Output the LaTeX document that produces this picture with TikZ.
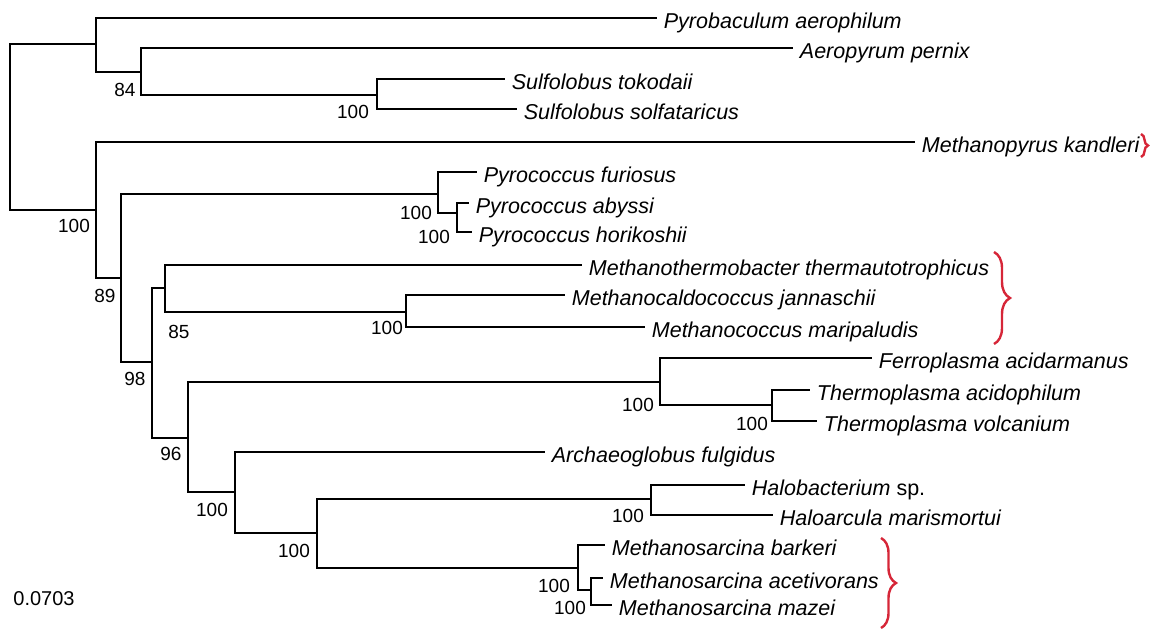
\documentclass[tikz,border=0pt]{standalone}
\usepackage{fontspec}
\setmainfont{Liberation Sans}
\usepackage{tikz}
\usetikzlibrary{decorations.pathreplacing}

\definecolor{cladered}{RGB}{214,38,56}

\begin{document}
\begin{tikzpicture}[x=1pt, y=-1pt, line width=1.8pt,
  taxon/.style={anchor=west, inner xsep=6pt, inner ysep=0pt, text height=21pt, text depth=0pt,
    font=\fontsize{21.5}{24}\selectfont\itshape},
  boot/.style={inner sep=0pt, font=\fontsize{19}{21}\selectfont},
  clade/.style={decorate, decoration={brace, amplitude=#1}, draw=cladered, line width=2.4pt}]
  \useasboundingbox (0,0) rectangle (1164,630);
  % split points: (x of the split, y of the branch coming in)
  \coordinate (root) at (10,127);
  \coordinate (nA) at (96,44);
  \coordinate (nC) at (141,72);
  \coordinate (nD) at (377,95);
  \coordinate (nB) at (96,210);
  \coordinate (nE) at (121,278);
  \coordinate (nF) at (438,194);
  \coordinate (nG) at (457,213);
  \coordinate (nH) at (152,362);
  \coordinate (nI) at (165,288);
  \coordinate (nJ) at (406,312);
  \coordinate (nK) at (188,438);
  \coordinate (nL) at (660,382);
  \coordinate (nM) at (772,405);
  \coordinate (nN) at (235,492);
  \coordinate (nO) at (317,533);
  \coordinate (nP) at (651,499);
  \coordinate (nQ) at (578,568);
  \coordinate (nR) at (591,590);
  % taxa, placed at the ends of their branches
  \node[taxon] (pyrob) at (657,18) {Pyrobaculum aerophilum};
  \node[taxon] (aerop) at (793,48) {Aeropyrum pernix};
  \node[taxon] (stoko) at (505,79) {Sulfolobus tokodaii};
  \node[taxon] (ssolf) at (517,109) {Sulfolobus solfataricus};
  \node[taxon] (mkand) at (915,142) {Methanopyrus kandleri};
  \node[taxon] (pfuri) at (477,172) {Pyrococcus furiosus};
  \node[taxon] (pabys) at (469,203) {Pyrococcus abyssi};
  \node[taxon] (phori) at (472,232) {Pyrococcus horikoshii};
  \node[taxon] (mther) at (582,265) {Methanothermobacter thermautotrophicus};
  \node[taxon] (mjann) at (565,295) {Methanocaldococcus jannaschii};
  \node[taxon] (mmari) at (645,327) {Methanococcus maripaludis};
  \node[taxon] (facid) at (872,358) {Ferroplasma acidarmanus};
  \node[taxon] (tacid) at (810,390) {Thermoplasma acidophilum};
  \node[taxon] (tvolc) at (817,421) {Thermoplasma volcanium};
  \node[taxon] (afulg) at (545,452) {Archaeoglobus fulgidus};
  \node[taxon] (halob) at (745,485) {Halobacterium {\upshape sp.}};
  \node[taxon] (hmari) at (773,515) {Haloarcula marismortui};
  \node[taxon] (mbark) at (605,545) {Methanosarcina barkeri};
  \node[taxon] (macet) at (603,578) {Methanosarcina acetivorans};
  \node[taxon] (mmaze) at (612,605) {Methanosarcina mazei};
  % branches
  \foreach \p/\c in {root/nA, root/nB, nA/pyrob.west, nA/nC, nC/aerop.west, nC/nD,
      nD/stoko.west, nD/ssolf.west, nB/mkand.west, nB/nE, nE/nF, nE/nH,
      nF/pfuri.west, nF/nG, nG/pabys.west, nG/phori.west, nH/nI, nH/nK,
      nI/mther.west, nI/nJ, nJ/mjann.west, nJ/mmari.west, nK/nL, nK/nN,
      nL/facid.west, nL/nM, nM/tacid.west, nM/tvolc.west, nN/afulg.west, nN/nO,
      nO/nP, nO/nQ, nP/halob.west, nP/hmari.west, nQ/mbark.west, nQ/nR,
      nR/macet.west, nR/mmaze.west}
    \draw (\p) |- (\c);
  % bootstrap values
  \foreach \bx/\by/\bv [count=\i] in {125/90/84, 353/112/100, 74/226/100, 105/296/89,
      416/213/100, 434/237/100, 135/379/98, 179/332/85, 387/328/100, 171/454/96,
      638/405/100, 752/424/100, 212/510/100, 294/551/100, 628/516/100, 554/586/100,
      570/608/100}
    \node[boot] (bs\i) at (\bx,\by) {\bv};
  \node[boot, font=\fontsize{20}{22}\selectfont] (scale) at (44,599) {0.0703};
  % methanogen groups
  \draw[clade=7pt] (1141,134) -- (1141,157);
  \draw[clade=16pt] (994,252) -- (994,344);
  \draw[clade=15pt] (881,538) -- (881,628);
\end{tikzpicture}
\end{document}
